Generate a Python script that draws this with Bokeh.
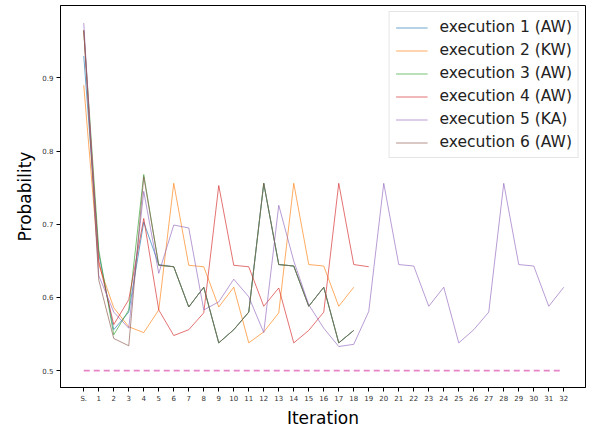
from bokeh.plotting import figure
from bokeh.models import ColumnDataSource, Legend, LegendItem, FixedTicker, Range1d
from bokeh.embed import file_html
from bokeh.resources import INLINE

x_labels = ["S."] + [str(i) for i in range(1, 33)]

exec1 = [0.93, 0.66, 0.556, 0.58, 0.703, 0.645, 0.642, 0.587, 0.614, 0.538, 0.556, 0.58, 0.756, 0.645, 0.643, 0.588, 0.614, 0.538, 0.555]
exec2 = [0.89, 0.645, 0.586, 0.56, 0.552, 0.583, 0.756, 0.644, 0.642, 0.587, 0.614, 0.538, 0.553, 0.579, 0.756, 0.645, 0.643, 0.588, 0.614]
exec3 = [0.965, 0.665, 0.549, 0.583, 0.768, 0.644, 0.642, 0.587, 0.614, 0.538, 0.556, 0.58, 0.756, 0.645, 0.643, 0.588, 0.614, 0.538, 0.555]
exec4 = [0.965, 0.65, 0.563, 0.597, 0.708, 0.583, 0.548, 0.556, 0.579, 0.753, 0.644, 0.642, 0.588, 0.613, 0.538, 0.555, 0.58, 0.756, 0.645, 0.642]
exec5 = [0.975, 0.63, 0.58, 0.558, 0.745, 0.633, 0.699, 0.695, 0.583, 0.594, 0.625, 0.601, 0.552, 0.726, 0.65, 0.59, 0.558, 0.533, 0.536, 0.581, 0.756, 0.645, 0.643, 0.588, 0.614, 0.538, 0.556, 0.58, 0.756, 0.645, 0.643, 0.588, 0.614]
exec6 = [0.965, 0.624, 0.544, 0.534, 0.765, 0.644, 0.642, 0.587, 0.614, 0.538, 0.556, 0.58, 0.756, 0.645, 0.643, 0.588, 0.614, 0.538, 0.555]
baseline = 0.5

series = [
    ("execution 1 (AW)", exec1, "#1f77b4"),
    ("execution 2 (KW)", exec2, "#ff7f0e"),
    ("execution 3 (AW)", exec3, "#2ca02c"),
    ("execution 4 (AW)", exec4, "#d62728"),
    ("execution 5 (KA)", exec5, "#9467bd"),
    ("execution 6 (AW)", exec6, "#8c564b"),
]

p = figure(width=588, height=430, output_backend="svg", toolbar_location=None,
           x_range=Range1d(-1.55, 33.45), y_range=Range1d(0.477, 0.999),
           min_border_left=60, min_border_right=3, min_border_top=5, min_border_bottom=5)
p.grid.visible = False
p.outline_line_color = "black"
p.outline_line_width = 1
p.background_fill_color = "white"

items = []
for name, vals, col in series:
    src = ColumnDataSource(dict(x=list(range(len(vals))), y=vals))
    r = p.line("x", "y", source=src, line_color=col, line_width=1, line_alpha=0.65)
    items.append(LegendItem(label=name, renderers=[r]))

bx = list(range(len(x_labels)))
p.line(bx, [baseline] * len(bx), line_color="#e377c2", line_width=1.6, line_dash="6 4", line_alpha=0.9)

p.xaxis.ticker = FixedTicker(ticks=bx)
p.xaxis.major_label_overrides = {i: l for i, l in enumerate(x_labels)}
p.yaxis.ticker = FixedTicker(ticks=[0.5, 0.6, 0.7, 0.8, 0.9])
p.yaxis.major_label_overrides = {0.5: "0.5", 0.6: "0.6", 0.7: "0.7", 0.8: "0.8", 0.9: "0.9"}
for ax in (p.xaxis[0], p.yaxis[0]):
    ax.major_label_text_font_size = "7px"
    ax.major_label_text_color = "#333333"
    ax.major_label_text_font = "DejaVu Sans"
    ax.major_label_standoff = 3
    ax.minor_tick_line_color = None
    ax.major_tick_out = 4
    ax.major_tick_in = 0
    ax.axis_label_text_font = "DejaVu Sans"
    ax.axis_label_text_font_size = "17px"
    ax.axis_label_text_font_style = "normal"
    ax.axis_label_text_color = "black"
    ax.axis_line_color = "black"
p.xaxis.axis_label = "Iteration"
p.yaxis.axis_label = "Probability"
p.xaxis.axis_label_standoff = 2
p.yaxis.axis_label_standoff = 4

legend = Legend(items=items, location="top_right")
legend.label_text_font = "DejaVu Sans"
legend.label_text_font_size = "15.5px"
legend.label_text_color = "#222222"
legend.glyph_width = 32
legend.glyph_height = 15
legend.label_standoff = 12
legend.spacing = 5
legend.padding = 6
legend.margin = 6
legend.border_line_color = "#cccccc"
legend.border_line_width = 1
legend.background_fill_alpha = 1.0
p.add_layout(legend)

open("out.html", "w").write(file_html(p, INLINE))
